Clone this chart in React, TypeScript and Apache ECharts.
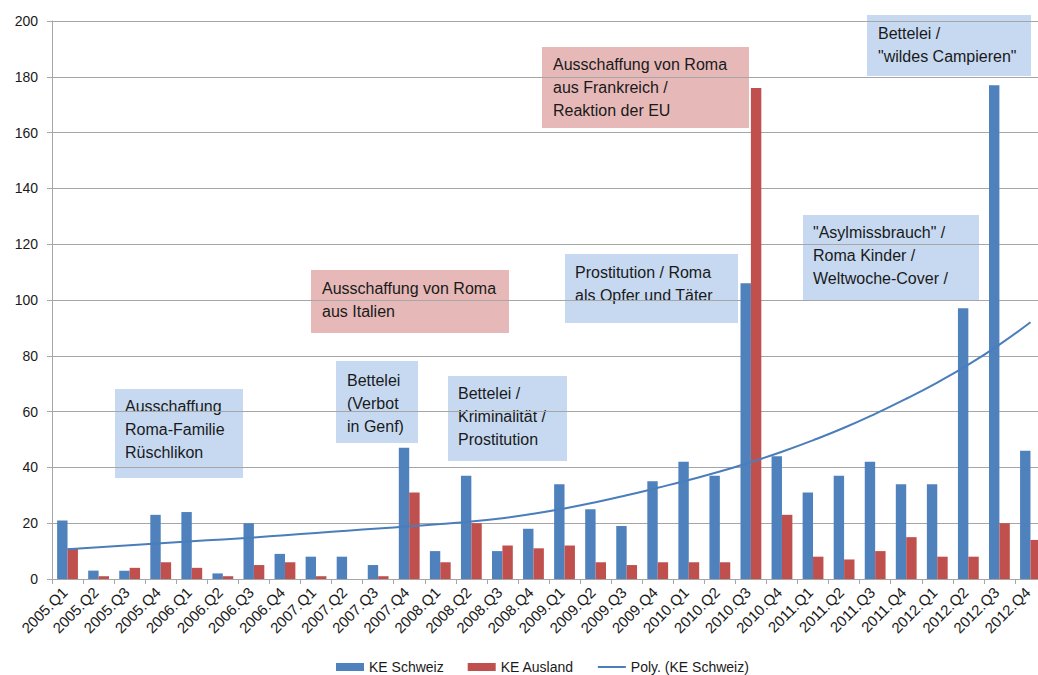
import React, { useEffect, useRef } from "react";
import * as echarts from "echarts";

// Quarterly counts of articles, 2005 to 2012
const quarters = [
  "2005.Q1", "2005.Q2", "2005.Q3", "2005.Q4",
  "2006.Q1", "2006.Q2", "2006.Q3", "2006.Q4",
  "2007.Q1", "2007.Q2", "2007.Q3", "2007.Q4",
  "2008.Q1", "2008.Q2", "2008.Q3", "2008.Q4",
  "2009.Q1", "2009.Q2", "2009.Q3", "2009.Q4",
  "2010.Q1", "2010.Q2", "2010.Q3", "2010.Q4",
  "2011.Q1", "2011.Q2", "2011.Q3", "2011.Q4",
  "2012.Q1", "2012.Q2", "2012.Q3", "2012.Q4",
];

const keSchweiz = [
  21, 3, 3, 23, 24, 2, 20, 9, 8, 8, 5, 47, 10, 37, 10, 18,
  34, 25, 19, 35, 42, 37, 106, 44, 31, 37, 42, 34, 34, 97, 177, 46,
];

const keAusland = [
  11, 1, 4, 6, 4, 1, 5, 6, 1, 0, 1, 31, 6, 20, 12, 11,
  12, 6, 5, 6, 6, 6, 176, 23, 8, 7, 10, 15, 8, 8, 20, 14,
];

// Polynomial trend of KE Schweiz, per quarter
const polyTrend = [
  10.7, 11.4, 12.1, 12.8, 13.5, 14.2, 14.9, 15.7, 16.5, 17.3, 18.1, 18.9,
  19.7, 20.6, 21.8, 23.4, 25.3, 27.5, 30.0, 32.7, 35.5, 38.5, 41.9, 45.6,
  49.7, 54.2, 59.2, 64.6, 70.4, 76.8, 84.0, 92.0,
];

const yTicks = [0, 20, 40, 60, 80, 100, 120, 140, 160, 180, 200];

const seriesNames = ["KE Schweiz", "KE Ausland", "Poly. (KE Schweiz)"];

// Event notes: text lines and tone ("ch" = Swiss topic, "eu" = foreign topic)
const noteLines = [
  ["Ausschaffung", "Roma-Familie", "Rüschlikon"],
  ["Bettelei", "(Verbot", "in Genf)"],
  ["Bettelei /", "Kriminalität /", "Prostitution"],
  ["Ausschaffung von Roma", "aus Italien"],
  ["Prostitution / Roma", "als Opfer und Täter"],
  ["Ausschaffung von Roma", "aus Frankreich /", "Reaktion der EU"],
  ["\"Asylmissbrauch\" /", "Roma Kinder /", "Weltwoche-Cover /"],
  ["Bettelei /", "\"wildes Campieren\""],
];
const noteTones = ["ch", "ch", "ch", "eu", "ch", "eu", "ch", "ch"];

// Box placement for each note: x, y, width, height, text offset x, text top
const noteBoxes = [
  [115, 389, 128, 89, 10, 395],
  [336, 361, 82, 82, 11, 369],
  [448, 376, 119, 85, 10, 382],
  [311, 270, 198, 63, 11, 277],
  [565, 254, 173, 69, 10, 261],
  [542, 47, 207, 81, 11, 53],
  [803, 215, 176, 86, 10, 221],
  [867, 15, 164, 61, 11, 22],
];

const FONT = "'Liberation Sans', Arial, Helvetica, sans-serif";
const BLUE = "#4F81BD";
const RED = "#C0504D";
const GRID = "#A6A6A6";
const TEXT = "#1A1A1A";

export default function App() {
  const ref = useRef<HTMLDivElement>(null);

  useEffect(() => {
    if (!ref.current) return;
    const chart = echarts.init(ref.current, null, { renderer: "svg" });

    const notes = noteLines.map((lines, i) => {
      const [x, y, w, h, tx, ty] = noteBoxes[i];
      const fill = noteTones[i] === "eu" ? "#E6B9B8" : "#C6D9F1";
      return {
        type: "group",
        z: 100,
        children: [
          { type: "rect", shape: { x, y, width: w, height: h }, style: { fill } },
          {
            type: "text",
            x: x + tx,
            y: ty,
            style: {
              text: lines.join("\n"),
              fill: TEXT,
              font: `16px ${FONT}`,
              lineHeight: 23,
              verticalAlign: "top",
              align: "left",
            },
          },
        ],
      };
    });

    chart.setOption({
      animation: false,
      backgroundColor: "#FFFFFF",
      textStyle: { fontFamily: FONT },
      grid: { left: 52, right: 0, top: 21, bottom: 96, containLabel: false },
      legend: {
        data: [
          { name: seriesNames[0], icon: "rect" },
          { name: seriesNames[1], icon: "rect" },
          { name: seriesNames[2], icon: "path://M0,0H28V2H0Z" },
        ],
        left: 331,
        top: 655,
        itemWidth: 28,
        itemHeight: 8,
        itemGap: 24,
        textStyle: { fontSize: 14, color: TEXT, fontFamily: FONT },
      },
      xAxis: {
        type: "category",
        data: quarters,
        axisLine: { lineStyle: { color: GRID, width: 1 } },
        axisTick: { show: true, length: 5, interval: 0, lineStyle: { color: GRID } },
        axisLabel: {
          interval: 0,
          rotate: 45,
          margin: 8,
          padding: [21, 4, 0, 0],
          fontSize: 15,
          color: TEXT,
          fontFamily: FONT,
        },
      },
      yAxis: {
        type: "value",
        min: yTicks[0],
        max: yTicks[yTicks.length - 1],
        interval: yTicks[1] - yTicks[0],
        axisLine: { show: true, lineStyle: { color: GRID, width: 1 } },
        axisTick: { show: true, length: 5, lineStyle: { color: GRID } },
        axisLabel: { fontSize: 14, color: TEXT, margin: 14, fontFamily: FONT },
        splitLine: { lineStyle: { color: GRID, width: 1 } },
      },
      series: [
        {
          name: seriesNames[0],
          type: "bar",
          data: keSchweiz,
          itemStyle: { color: BLUE },
          barGap: "0%",
          barCategoryGap: "33%",
        },
        {
          name: seriesNames[1],
          type: "bar",
          data: keAusland,
          itemStyle: { color: RED },
          barGap: "0%",
          barCategoryGap: "33%",
        },
        {
          name: seriesNames[2],
          type: "line",
          data: polyTrend,
          smooth: true,
          symbol: "none",
          z: 5,
          lineStyle: { color: "#4A7EBB", width: 2 },
          itemStyle: { color: "#4A7EBB" },
        },
      ],
      graphic: notes,
    });

    return () => chart.dispose();
  }, []);

  return (
    <div
      style={{
        position: "fixed",
        left: 0,
        top: 0,
        width: 1038,
        height: 675,
        overflow: "hidden",
        background: "#FFFFFF",
      }}
    >
      <div ref={ref} style={{ width: 1046, height: 675 }} />
    </div>
  );
}
